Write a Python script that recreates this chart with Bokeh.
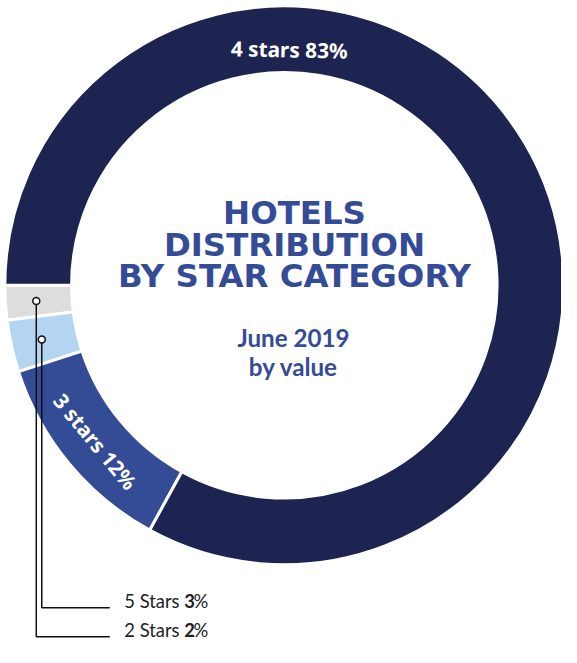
import math
from bokeh.plotting import figure
from bokeh.models import Range1d, ColumnDataSource
from bokeh.core.properties import value
from bokeh.embed import file_html
from bokeh.resources import INLINE

# ---- data ----
categories = ["2 Stars", "5 Stars", "3 stars", "4 stars"]
shares = [2, 3, 12, 83]
colors = ["#dcdddc", "#b3d5f1", "#344b95", "#1e2452"]
title_lines = ["HOTELS", "DISTRIBUTION", "BY STAR CATEGORY"]
subtitle_lines = ["June 2019", "by value"]

# ---- geometry (reference pixel space, y negated) ----
W, H = 561, 647
S = 0.967
x0, y_top = 0.0, 1.0
p = figure(width=W, height=H, output_backend="svg", toolbar_location=None,
           x_range=Range1d(x0, x0 + W / S), y_range=Range1d(y_top - H / S, y_top),
           min_border=0, outline_line_color=None)
p.axis.visible = False
p.grid.visible = False
p.background_fill_color = "white"

def fs(px):
    return "%.1fpx" % (px * S)

cx, cy = 293.5, -293.5
r_out, r_in = 289.0, 220.0
start0 = 180.0
tot = float(sum(shares))
starts, ends = [], []
a = start0
for s in shares:
    starts.append(math.radians(a))
    a += 360.0 * s / tot
    ends.append(math.radians(a))

src = ColumnDataSource(dict(start=starts, end=ends, color=colors))
p.annular_wedge(x=cx, y=cy, inner_radius=r_in, outer_radius=r_out,
                start_angle="start", end_angle="end", fill_color="color",
                line_color="white", line_width=3, source=src)

r_mid = (r_in + r_out) / 2
# 3 stars label at segment middle
m3 = (starts[2] + ends[2]) / 2
p.text(x=[cx + (r_mid - 1) * math.cos(m3)], y=[cy + (r_mid - 1) * math.sin(m3)],
       text=["%s %d%%" % (categories[2], shares[2])], angle=[m3 - math.pi / 2 - math.pi],
       text_color="white", text_font=value("Noto Sans"), text_font_style="bold",
       text_font_size=fs(21.5), text_align="center", text_baseline="middle")
# 4 stars label at the top
a4 = math.radians(88.8)
p.text(x=[cx + 244 * math.cos(a4)], y=[cy + 244 * math.sin(a4)],
       text=["%s %d%%" % (categories[3], shares[3])], angle=[a4 - math.pi / 2],
       text_color="white", text_font=value("Noto Sans"), text_font_style="bold",
       text_font_size=fs(21.5), text_align="center", text_baseline="middle")

# title
tcol = "#344b97"
title_y = [-219, -252, -284]
p.text(x=[304] * 3, y=title_y, text=title_lines, text_color=tcol,
       text_font=value("DejaVu Sans"), text_font_style="bold", text_font_size=fs(33.5),
       text_align="center", text_baseline="middle")
p.text(x=[303] * 2, y=[-348, -377], text=subtitle_lines, text_color=tcol,
       text_font=value("Lato"), text_font_style="bold", text_font_size=fs(25),
       text_align="center", text_baseline="middle")

# leader lines for small segments
r_dot = 257
line_end_x = 113
line_y = {0: -657, 1: -627}
for i in (0, 1):
    m = (starts[i] + ends[i]) / 2
    dx, dy = cx + r_dot * math.cos(m), cy + r_dot * math.sin(m)
    ly = line_y[i]
    p.line(x=[dx, dx, line_end_x], y=[dy, ly, ly], line_color="#111111", line_width=1.5)
    p.scatter(x=[dx], y=[dy], size=7, marker="circle", fill_color="white",
              line_color="#111111", line_width=1.5)
    mid = ly + 7
    p.text(x=[128], y=[mid], text=[categories[i]], text_color="#222222",
           text_font=value("Lato"), text_font_size=fs(19),
           text_align="left", text_baseline="middle")
    p.text(x=[190], y=[mid], text=[str(shares[i])], text_color="#222222",
           text_font=value("Lato"), text_font_style="bold", text_font_size=fs(19),
           text_align="left", text_baseline="middle")
    p.text(x=[199.5], y=[mid], text=["%"], text_color="#222222",
           text_font=value("Lato"), text_font_size=fs(19),
           text_align="left", text_baseline="middle")

open("out.html", "w").write(file_html(p, INLINE))
